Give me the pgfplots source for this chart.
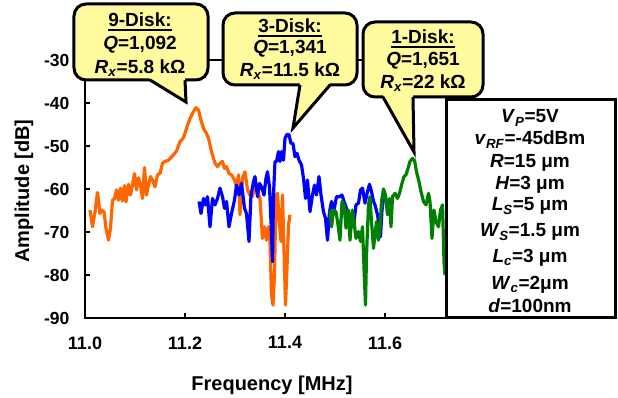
\documentclass[border=0pt]{standalone}
\usepackage{fontspec}
\setmainfont{Liberation Sans}
\usepackage{pgfplots}
\pgfplotsset{compat=1.18}
\definecolor{bub}{RGB}{255,250,158}
\definecolor{orng}{RGB}{255,102,0}
\definecolor{blu}{RGB}{0,0,255}
\definecolor{grn}{RGB}{0,128,0}
\newcommand{\fs}[1]{\fontsize{#1}{#1}\selectfont\bfseries}
\newcommand{\iv}[1]{\textit{#1}}
\newcommand{\sub}[1]{\textsubscript{\textit{#1}}}
\begin{document}
\begin{tikzpicture}
\begin{axis}[name=ax, width=361pt, height=258pt, scale only axis,
 xmin=11.0, xmax=11.722, ymin=-90, ymax=-30,
 xtick={11.0,11.2,11.4,11.6}, ytick={-90,-80,-70,-60,-50,-40,-30},
 xtick pos=bottom, ytick pos=left, tick align=inside, major tick length=5pt,
 axis line style={line width=1.6pt}, tick style={line width=1.1pt, black},
 /pgf/number format/assume math mode=true,
 xticklabel style={font=\fs{18}, /pgf/number format/fixed, /pgf/number format/fixed zerofill, /pgf/number format/precision=1, yshift=-15pt},
 yticklabel style={font=\fs{17.5}, xshift=-12pt},
 every axis plot/.append style={line width=3.2pt, line join=round, no markers}]
\addplot[orng] coordinates {(11.010,-64.9) (11.015,-68.8) (11.020,-65.3) (11.025,-60.8) (11.030,-65.7) (11.033,-64.9) (11.038,-65.3) (11.042,-69.1) (11.047,-71.9) (11.051,-69.1) (11.055,-62.6) (11.059,-62.3) (11.063,-60.2) (11.067,-62.6) (11.071,-59.8) (11.075,-62.8) (11.079,-59.2) (11.082,-63.0) (11.087,-58.9) (11.091,-61.4) (11.095,-59.1) (11.099,-56.4) (11.103,-60.2) (11.107,-57.4) (11.111,-59.1) (11.115,-62.2) (11.119,-55.0) (11.123,-61.4) (11.127,-59.1) (11.131,-57.1) (11.135,-57.9) (11.140,-59.5) (11.145,-56.7) (11.150,-56.4) (11.155,-54.0) (11.160,-53.6) (11.167,-53.3) (11.175,-52.3) (11.183,-51.2) (11.190,-49.0) (11.197,-48.1) (11.203,-45.9) (11.210,-43.6) (11.217,-42.0) (11.222,-41.1) (11.227,-41.6) (11.232,-44.0) (11.237,-45.9) (11.243,-47.1) (11.247,-48.2) (11.253,-51.3) (11.260,-54.0) (11.265,-54.8) (11.270,-54.0) (11.275,-53.6) (11.279,-55.2) (11.283,-54.8) (11.288,-56.4) (11.293,-56.7) (11.299,-57.9) (11.303,-59.5) (11.307,-56.7) (11.310,-66.0) (11.315,-57.5) (11.320,-56.0) (11.325,-60.2) (11.330,-61.4) (11.335,-61.8) (11.340,-59.1) (11.345,-60.6) (11.350,-62.2) (11.355,-71.5) (11.359,-68.8) (11.363,-71.9) (11.367,-68.8) (11.370,-72.2) (11.373,-84.6) (11.376,-87.0) (11.379,-80.0) (11.382,-61.4) (11.385,-61.0) (11.388,-66.8) (11.392,-72.2) (11.395,-61.4) (11.399,-78.4) (11.401,-87.0) (11.404,-78.4) (11.407,-68.4) (11.410,-66.0)};
\addplot[blu] coordinates {(11.228,-62.9) (11.232,-65.7) (11.237,-62.2) (11.241,-63.7) (11.245,-61.8) (11.250,-68.8) (11.255,-62.2) (11.260,-63.7) (11.265,-62.2) (11.270,-59.8) (11.275,-61.8) (11.279,-64.5) (11.283,-62.9) (11.288,-68.8) (11.293,-65.7) (11.299,-62.6) (11.303,-59.1) (11.308,-61.4) (11.313,-58.7) (11.319,-64.5) (11.323,-65.7) (11.328,-72.2) (11.332,-61.4) (11.337,-58.3) (11.340,-57.1) (11.345,-61.8) (11.349,-58.7) (11.353,-59.5) (11.358,-61.4) (11.362,-57.5) (11.365,-56.0) (11.369,-59.5) (11.372,-67.6) (11.375,-76.9) (11.377,-61.4) (11.380,-53.6) (11.383,-53.6) (11.387,-51.3) (11.390,-53.6) (11.393,-51.3) (11.397,-53.3) (11.400,-48.2) (11.404,-47.3) (11.408,-47.4) (11.412,-49.4) (11.416,-49.4) (11.420,-52.5) (11.424,-51.7) (11.428,-53.3) (11.433,-54.4) (11.437,-57.5) (11.441,-62.2) (11.445,-57.9) (11.450,-65.3) (11.455,-61.4) (11.459,-59.1) (11.463,-61.4) (11.468,-57.1) (11.472,-61.4) (11.477,-65.3) (11.481,-66.8) (11.485,-71.9) (11.489,-65.3) (11.493,-62.9) (11.498,-64.9) (11.503,-61.8) (11.509,-61.8) (11.514,-61.4) (11.518,-62.9) (11.522,-64.1) (11.527,-68.8) (11.531,-66.4) (11.537,-68.8) (11.542,-63.7) (11.547,-63.3) (11.551,-60.2) (11.555,-59.8) (11.560,-63.3) (11.565,-60.6) (11.569,-58.9) (11.573,-60.6) (11.577,-62.9) (11.580,-63.7) (11.585,-66.0) (11.589,-69.1) (11.591,-71.1) (11.594,-64.9) (11.597,-62.2)};
\addplot[grn] coordinates {(11.490,-64.9) (11.493,-68.8) (11.497,-64.9) (11.502,-65.3) (11.507,-69.1) (11.510,-71.9) (11.514,-62.9) (11.518,-63.7) (11.522,-69.1) (11.527,-64.9) (11.530,-71.9) (11.535,-64.9) (11.538,-67.6) (11.542,-71.5) (11.547,-69.9) (11.551,-72.2) (11.555,-68.8) (11.559,-81.5) (11.561,-87.0) (11.563,-75.4) (11.567,-63.7) (11.570,-61.8) (11.573,-67.6) (11.577,-73.8) (11.580,-70.7) (11.583,-67.6) (11.587,-71.9) (11.590,-69.1) (11.593,-62.9) (11.597,-60.0) (11.601,-61.4) (11.605,-66.0) (11.609,-62.2) (11.612,-68.8) (11.615,-61.8) (11.620,-61.0) (11.625,-62.2) (11.629,-61.0) (11.633,-59.1) (11.638,-57.1) (11.642,-56.7) (11.646,-55.2) (11.650,-53.6) (11.655,-52.9) (11.659,-53.3) (11.663,-56.0) (11.668,-58.3) (11.672,-60.6) (11.677,-62.9) (11.682,-63.7) (11.687,-61.0) (11.690,-62.9) (11.694,-71.5) (11.698,-64.9) (11.702,-67.6) (11.707,-68.8) (11.711,-64.9) (11.715,-63.7) (11.718,-76.9) (11.720,-80.0)};
\end{axis}
\path (ax.south west) ++(-85pt,318pt) coordinate (O);
\begin{scope}[shift={(O)}, x=1pt, y=-1pt]
\useasboundingbox (0,0) rectangle (618,398);
% axis labels
\node[font=\fs{20}] at (272,385) {Frequency [MHz]};
\node[font=\fs{20}, rotate=90] at (24,191) {Amplitude [dB]};
% bubble 1
\draw[fill=bub, line width=3pt, rounded corners=12pt] (74,4) rectangle (208,80);
\fill[bub] (149,78) -- (186,102) -- (185,78) -- cycle;
\draw[line width=3pt, line join=miter] (150,80) -- (186,102) -- (185,80);
\node[font=\fs{19}, anchor=base, inner sep=0pt] (a1) at (140,27) {9-Disk:};
\draw[line width=1.7pt] ([yshift=-2.8pt]a1.base west) -- ([yshift=-2.8pt]a1.base east);
\node[font=\fs{19}, anchor=base, inner sep=0pt] at (140,50) {\iv{Q}=1,092};
\node[font=\fs{19}, anchor=base, inner sep=0pt] at (140,74) {\iv{R}\sub{x}=5.8 kΩ};
% bubble 2
\draw[fill=bub, line width=3pt, rounded corners=12pt] (223,13) rectangle (357,85);
\fill[bub] (300,83) -- (293,128) -- (330,83) -- cycle;
\draw[line width=3pt, line join=miter] (300,85) -- (293,128) -- (330,85);
\node[font=\fs{19}, anchor=base, inner sep=0pt] (a2) at (290,33) {3-Disk:};
\draw[line width=1.7pt] ([yshift=-2.8pt]a2.base west) -- ([yshift=-2.8pt]a2.base east);
\node[font=\fs{19}, anchor=base, inner sep=0pt] at (290,54) {\iv{Q}=1,341};
\node[font=\fs{19}, anchor=base, inner sep=0pt] at (290,77) {\iv{R}\sub{x}=11.5 kΩ};
% bubble 3
\draw[fill=bub, line width=3pt, rounded corners=12pt] (363,22) rectangle (483,97);
\fill[bub] (383,95) -- (414,152) -- (413,95) -- cycle;
\draw[line width=3pt, line join=miter] (383,97) -- (414,152) -- (413,97);
\node[font=\fs{19}, anchor=base, inner sep=0pt] (a3) at (423,44) {1-Disk:};
\draw[line width=1.7pt] ([yshift=-2.8pt]a3.base west) -- ([yshift=-2.8pt]a3.base east);
\node[font=\fs{19}, anchor=base, inner sep=0pt] at (423,66) {\iv{Q}=1,651};
\node[font=\fs{19}, anchor=base, inner sep=0pt] at (423,89) {\iv{R}\sub{x}=22 kΩ};
% parameter box
\draw[fill=white, line width=3pt] (446,100) rectangle (615,318);
\begin{scope}[every node/.style={font=\fs{19}, anchor=base, inner sep=0pt}]
\node at (530,123) {\iv{V}\sub{P}=5V};
\node at (530,145) {\iv{v}\sub{RF}=-45dBm};
\node at (530,168) {\iv{R}=15 μm};
\node at (530,190) {\iv{H}=3 μm};
\node at (530,211) {\iv{L}\sub{S}=5 μm};
\node at (530,237) {\iv{W}\sub{S}=1.5 μm};
\node at (530,263) {\iv{L}\sub{c}=3 μm};
\node at (530,290) {\iv{W}\sub{c}=2μm};
\node at (530,313) {\iv{d}=100nm};
\end{scope}
\end{scope}
\end{tikzpicture}
\end{document}
